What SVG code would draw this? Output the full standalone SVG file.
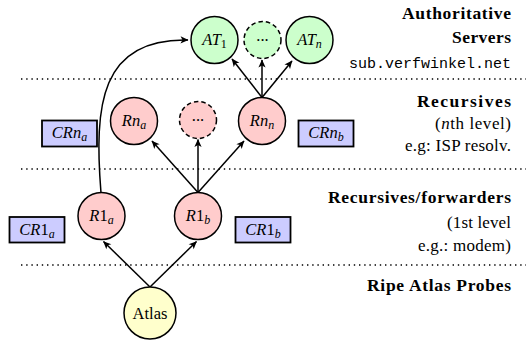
<svg xmlns="http://www.w3.org/2000/svg" width="530" height="343" viewBox="0 0 530 343">
<defs>
<marker id="arr" viewBox="-8 -4 9 8" refX="0" refY="0" markerWidth="9" markerHeight="8" markerUnits="userSpaceOnUse" orient="auto">
<path d="M0.5,0 L-7.5,-3.6 L-5.5,0 L-7.5,3.6 Z" fill="#000"/>
</marker>
</defs>
<style>
.sep{stroke:#000;stroke-width:1.4;stroke-dasharray:1.4 3.8;fill:none}
.n{stroke:#000;stroke-width:1.5}
.dash{stroke-dasharray:4.5 3}
.g{fill:#ccffcc}
.p{fill:#ffcccc}
.y{fill:#ffffcc}
.b{fill:#ccccff;stroke:#000;stroke-width:1.8}
.e{stroke:#000;stroke-width:1.5;fill:none;marker-end:url(#arr)}
text{font-family:'Liberation Serif','Times New Roman',Tinos,'DejaVu Serif',serif}
.lbl{font-style:italic;font-size:16.5px;text-anchor:middle;fill:#000}
.sub{font-size:12px}
.up{font-style:normal}
.r{font-size:17px;text-anchor:end;fill:#000}
.bd{font-weight:bold;font-size:17.5px}
text.mono{font-family:'Liberation Mono','Courier New',monospace;font-size:15px;text-anchor:end;fill:#000}
</style>
<g id="separators">
<line class="sep" x1="21" y1="79" x2="526" y2="79"/>
<line class="sep" x1="21" y1="169" x2="526" y2="169"/>
<line class="sep" x1="21" y1="265" x2="526" y2="265"/>
</g>
<g id="connectors">
<line class="e" x1="150" y1="287" x2="103.5" y2="241.5"/>
<line class="e" x1="150" y1="287" x2="196.5" y2="241.5"/>
<line class="e" x1="198" y1="192.5" x2="152" y2="141"/>
<line class="e" x1="198" y1="192.5" x2="198" y2="139.5"/>
<line class="e" x1="198" y1="192.5" x2="244" y2="141"/>
<line class="e" x1="262" y1="97.5" x2="232" y2="59"/>
<line class="e" x1="262" y1="97.5" x2="262" y2="60"/>
<line class="e" x1="262" y1="97.5" x2="292" y2="61"/>
<path class="e" d="M101,193 C94,105 100,38 188,40"/>
</g>
<g id="AT1"><circle class="n g" cx="214.5" cy="40" r="23.5"/><text class="lbl" x="214.5" y="45">AT<tspan class="sub up" dy="3">1</tspan></text></g>
<g id="ATdots"><circle class="n g dash" cx="262.5" cy="40" r="18.5"/><text class="lbl up" x="262.5" y="41" font-size="12">...</text></g>
<g id="ATn"><circle class="n g" cx="309.5" cy="40" r="23.5"/><text class="lbl" x="309.5" y="45">AT<tspan class="sub" dy="3">n</tspan></text></g>
<g id="Rna"><circle class="n p" cx="134" cy="121" r="23.5"/><text class="lbl" x="134" y="126">Rn<tspan class="sub" dy="3">a</tspan></text></g>
<g id="Rdots"><circle class="n p dash" cx="198" cy="120" r="18.5"/><text class="lbl up" x="198" y="121" font-size="12">...</text></g>
<g id="Rnn"><circle class="n p" cx="262" cy="121" r="23.5"/><text class="lbl" x="262" y="126">Rn<tspan class="sub" dy="3">n</tspan></text></g>
<g id="CRna"><rect class="b" x="42" y="120.5" width="55" height="26"/><text class="lbl" x="69.5" y="138">CRn<tspan class="sub" dy="3">a</tspan></text></g>
<g id="CRnb"><rect class="b" x="298.5" y="120.5" width="55" height="26"/><text class="lbl" x="326" y="138">CRn<tspan class="sub" dy="3">b</tspan></text></g>
<g id="R1a"><circle class="n p" cx="101.5" cy="216" r="23.5"/><text class="lbl" x="101.5" y="221">R<tspan class="up">1</tspan><tspan class="sub" dy="3">a</tspan></text></g>
<g id="R1b"><circle class="n p" cx="198" cy="216" r="23.5"/><text class="lbl" x="198" y="221">R<tspan class="up">1</tspan><tspan class="sub" dy="3">b</tspan></text></g>
<g id="CR1a"><rect class="b" x="9.5" y="217" width="55" height="25.5"/><text class="lbl" x="37" y="234.5">CR<tspan class="up">1</tspan><tspan class="sub" dy="3">a</tspan></text></g>
<g id="CR1b"><rect class="b" x="235.5" y="217" width="55" height="25.5"/><text class="lbl" x="263" y="234.5">CR<tspan class="up">1</tspan><tspan class="sub" dy="3">b</tspan></text></g>
<g id="Atlas"><circle class="n y" cx="150" cy="313" r="26"/><text class="lbl up" x="150" y="318.5">Atlas</text></g>
<g id="legend">
<text class="r bd" x="511" y="18.5" textLength="109">Authoritative</text>
<text class="r bd" x="511" y="43" textLength="59">Servers</text>
<text class="mono" x="511" y="68">sub.verfwinkel.net</text>
<text class="r bd" x="511" y="106.5" textLength="94">Recursives</text>
<text class="r" x="511" y="128.5" textLength="76">(<tspan font-style="italic">n</tspan>th level)</text>
<text class="r" x="511" y="150.5" textLength="106">e.g: ISP resolv.</text>
<text class="r bd" x="511" y="203" textLength="183">Recursives/forwarders</text>
<text class="r" x="511" y="227.5" textLength="64">(1st level</text>
<text class="r" x="511" y="251" textLength="93">e.g.: modem)</text>
<text class="r bd" x="511" y="290.5" textLength="144">Ripe Atlas Probes</text>
</g>
</svg>
